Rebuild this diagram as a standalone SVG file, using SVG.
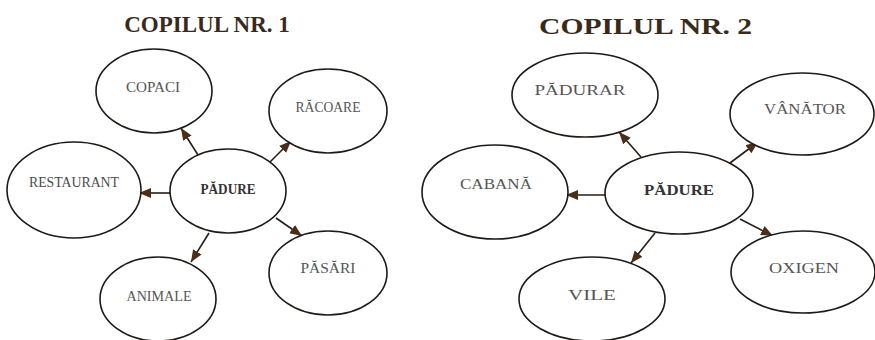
<svg xmlns="http://www.w3.org/2000/svg" width="875" height="340" viewBox="0 0 875 340">
<style>
.bg{fill:#ffffff}
.node ellipse{fill:#ffffff;stroke:#1e1a17;stroke-width:1.6}
.title{font-family:"Liberation Serif","Times New Roman",serif;font-weight:bold;font-size:23px;fill:#3a2a1c;text-anchor:middle}
.lbl{font-family:"Liberation Serif","Times New Roman",serif;font-size:14.5px;fill:#555;text-anchor:middle}
.ser{font-family:"Liberation Serif","Times New Roman",serif;font-size:13.8px;fill:#4a4a4a;text-anchor:middle}
.ctr{font-family:"Liberation Serif","Times New Roman",serif;font-size:14.5px;font-weight:bold;fill:#333;text-anchor:middle}
.conn line{stroke:#2a1d14;stroke-width:1.6;marker-end:url(#ah)}
</style>
<defs>
<marker id="ah" markerUnits="userSpaceOnUse" markerWidth="14" markerHeight="12" refX="12" refY="5" orient="auto">
<path d="M0,0 L12,5 L0,10 Z" fill="#4a2e1a"/>
</marker>
</defs>
<rect class="bg" width="875" height="340"/>
<text class="title" x="207" y="32">COPILUL NR. 1</text>
<text class="title" x="645.5" y="34" textLength="213" lengthAdjust="spacingAndGlyphs">COPILUL NR. 2</text>

<g id="connectors" class="conn">
<line x1="198" y1="155" x2="181" y2="128"/>
<line x1="270" y1="162" x2="291" y2="141"/>
<line x1="170" y1="193" x2="139" y2="193"/>
<line x1="209" y1="233" x2="191" y2="262"/>
<line x1="276" y1="218" x2="302" y2="236"/>
<line x1="641" y1="157" x2="619" y2="132"/>
<line x1="730" y1="163" x2="758" y2="142"/>
<line x1="605" y1="195" x2="566" y2="195"/>
<line x1="655" y1="233" x2="631" y2="263"/>
<line x1="740" y1="219" x2="773" y2="236"/>
</g>

<g id="n1-padure" class="node"><ellipse cx="228" cy="191" rx="58" ry="42"/><text class="ctr" x="228" y="194" textLength="55" lengthAdjust="spacingAndGlyphs">PĂDURE</text></g>
<g id="n1-copaci" class="node"><ellipse cx="154" cy="91" rx="58" ry="42"/><text class="lbl" x="153" y="92" textLength="54" lengthAdjust="spacingAndGlyphs">COPACI</text></g>
<g id="n1-racoare" class="node"><ellipse cx="328" cy="111" rx="59" ry="42"/><text class="lbl" x="328" y="112" textLength="65" lengthAdjust="spacingAndGlyphs">RĂCOARE</text></g>
<g id="n1-restaurant" class="node"><ellipse cx="74" cy="190" rx="67" ry="48"/><text class="ser" x="74" y="187" textLength="90" lengthAdjust="spacingAndGlyphs">RESTAURANT</text></g>
<g id="n1-animale" class="node"><ellipse cx="158" cy="299" rx="58" ry="42"/><text class="lbl" x="159" y="301" textLength="65" lengthAdjust="spacingAndGlyphs">ANIMALE</text></g>
<g id="n1-pasari" class="node"><ellipse cx="328" cy="273" rx="59" ry="42"/><text class="lbl" x="328" y="273" textLength="55" lengthAdjust="spacingAndGlyphs">PĂSĂRI</text></g>

<g id="n2-padure" class="node"><ellipse cx="679" cy="193" rx="74" ry="41"/><text class="ctr" x="679" y="195" textLength="70" lengthAdjust="spacingAndGlyphs">PĂDURE</text></g>
<g id="n2-padurar" class="node"><ellipse cx="585" cy="95" rx="73" ry="42"/><text class="lbl" x="580" y="95" textLength="91" lengthAdjust="spacingAndGlyphs">PĂDURAR</text></g>
<g id="n2-vanator" class="node"><ellipse cx="802" cy="114" rx="72" ry="41"/><text class="lbl" x="805" y="114" textLength="82" lengthAdjust="spacingAndGlyphs">VÂNĂTOR</text></g>
<g id="n2-cabana" class="node"><ellipse cx="495" cy="192" rx="73" ry="47"/><text class="lbl" x="496" y="189" textLength="72" lengthAdjust="spacingAndGlyphs">CABANĂ</text></g>
<g id="n2-vile" class="node"><ellipse cx="592" cy="299" rx="73" ry="42"/><text class="lbl" x="592" y="300" textLength="48" lengthAdjust="spacingAndGlyphs">VILE</text></g>
<g id="n2-oxigen" class="node"><ellipse cx="803" cy="272" rx="72" ry="41"/><text class="lbl" x="804" y="273" textLength="70" lengthAdjust="spacingAndGlyphs">OXIGEN</text></g>
</svg>
